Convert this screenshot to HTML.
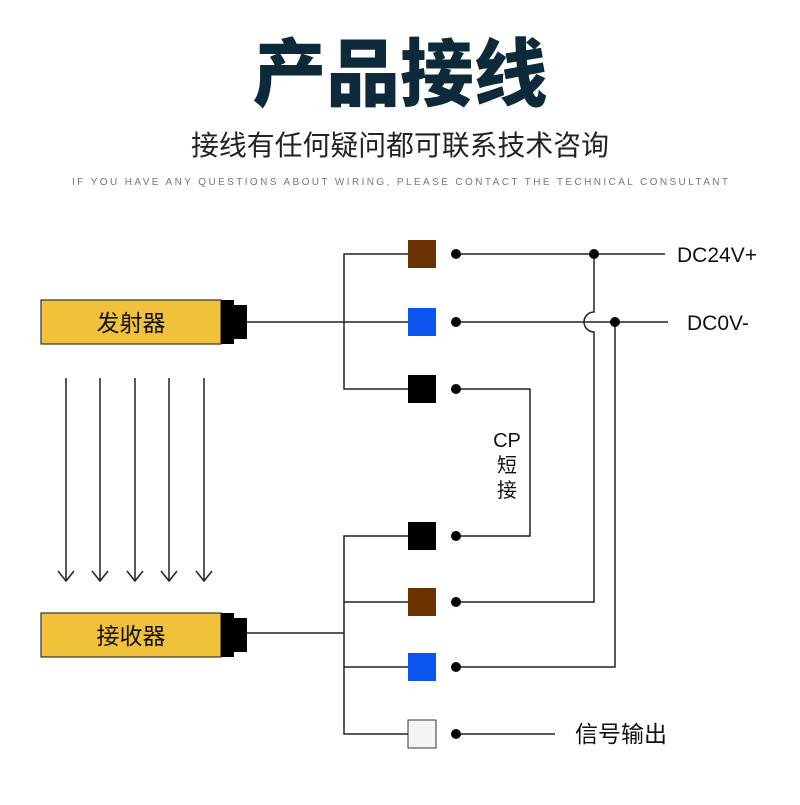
<!DOCTYPE html>
<html><head><meta charset="utf-8"><style>
body{margin:0;background:#fff;width:800px;height:800px;overflow:hidden}
</style></head><body>
<svg width="800" height="800" viewBox="0 0 800 800" xmlns="http://www.w3.org/2000/svg" font-family="'Liberation Sans','Noto Sans CJK SC',sans-serif">
<text x="400" y="100" text-anchor="middle" font-size="74" font-weight="900" fill="#0d2a3a" textLength="295" lengthAdjust="spacingAndGlyphs">产品接线</text>
<text x="400" y="155" text-anchor="middle" font-size="28" fill="#222" textLength="418" lengthAdjust="spacingAndGlyphs">接线有任何疑问都可联系技术咨询</text>
<text x="400" y="185" text-anchor="middle" font-size="10" fill="#777" textLength="656" lengthAdjust="spacing">IF YOU HAVE ANY QUESTIONS ABOUT WIRING, PLEASE CONTACT THE TECHNICAL CONSULTANT</text>

<g fill="none" stroke="#222" stroke-width="1.5">
<line x1="247" y1="322" x2="408" y2="322"/>
<path d="M408 254 H344 V389 H408"/>
<line x1="247" y1="633" x2="344" y2="633"/>
<path d="M408 536 H344 V734 H408"/>
<line x1="344" y1="602" x2="408" y2="602"/>
<line x1="344" y1="667" x2="408" y2="667"/>
<line x1="456" y1="254" x2="665" y2="254"/>
<line x1="456" y1="322" x2="668" y2="322"/>
<path d="M594 254 V312 A10 10 0 0 0 594 332 V602 H456"/>
<path d="M615 322 V667 H456"/>
<path d="M456 389 H530 V536 H456"/>
<line x1="456" y1="734" x2="555" y2="734"/>
<g>
<line x1="66" y1="378" x2="66" y2="581"/><path d="M58 571 L66 581 L74 571"/>
<line x1="100" y1="378" x2="100" y2="581"/><path d="M92 571 L100 581 L108 571"/>
<line x1="135" y1="378" x2="135" y2="581"/><path d="M127 571 L135 581 L143 571"/>
<line x1="169" y1="378" x2="169" y2="581"/><path d="M161 571 L169 581 L177 571"/>
<line x1="204" y1="378" x2="204" y2="581"/><path d="M196 571 L204 581 L212 571"/>
</g>
</g>

<rect x="41" y="300" width="180" height="44" fill="#f2c13c" stroke="#333" stroke-width="1.2"/>
<rect x="221" y="300" width="13" height="44" fill="#000"/>
<rect x="233" y="305" width="14" height="34" fill="#000"/>
<text x="131" y="331" text-anchor="middle" font-size="23" fill="#111">发射器</text>
<rect x="41" y="613" width="180" height="44" fill="#f2c13c" stroke="#333" stroke-width="1.2"/>
<rect x="221" y="613" width="13" height="44" fill="#000"/>
<rect x="233" y="618" width="14" height="34" fill="#000"/>
<text x="131" y="644" text-anchor="middle" font-size="23" fill="#111">接收器</text>

<rect x="408" y="240" width="28" height="28" fill="#6b3300"/>
<rect x="408" y="308" width="28" height="28" fill="#0a55f0"/>
<rect x="408" y="375" width="28" height="28" fill="#000"/>
<rect x="408" y="522" width="28" height="28" fill="#000"/>
<rect x="408" y="588" width="28" height="28" fill="#6b3300"/>
<rect x="408" y="653" width="28" height="28" fill="#0a55f0"/>
<rect x="408" y="720" width="28" height="28" fill="#f4f4f4" stroke="#333" stroke-width="1"/>

<g fill="#000">
<circle cx="456" cy="254" r="5"/><circle cx="456" cy="322" r="5"/><circle cx="456" cy="389" r="5"/>
<circle cx="456" cy="536" r="5"/><circle cx="456" cy="602" r="5"/><circle cx="456" cy="667" r="5"/>
<circle cx="456" cy="734" r="5"/>
<circle cx="594" cy="254" r="5"/><circle cx="615" cy="322" r="5"/>
</g>

<g font-size="20" fill="#111">
<text x="677" y="262" font-size="21">DC24V+</text>
<text x="687" y="330" font-size="21">DC0V-</text>
<text x="507" y="447" text-anchor="middle">CP</text>
<text x="507" y="472" text-anchor="middle">短</text>
<text x="507" y="497" text-anchor="middle">接</text>
<text x="575" y="742" font-size="23">信号输出</text>
</g>
</svg>
</body></html>
